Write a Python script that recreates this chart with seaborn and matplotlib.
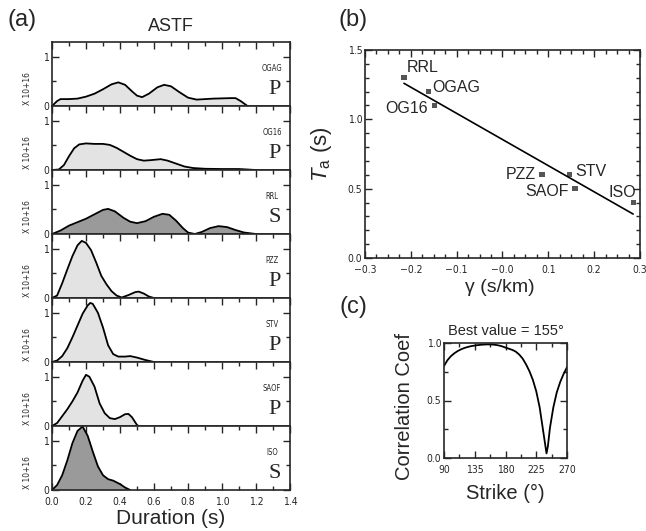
import numpy as np
import matplotlib
matplotlib.use("Agg")
import matplotlib.pyplot as plt
import seaborn as sns
from matplotlib.ticker import MultipleLocator

# ---- (a) apparent source time functions (amplitude x 1e16) ----
stations = ["OGAG", "OG16", "RRL", "PZZ", "STV", "SAOF", "ISO"]
phases = ["P", "P", "S", "P", "P", "P", "S"]

ogag_t = [0, 0.03, 0.05, 0.10, 0.15, 0.20, 0.25, 0.30, 0.35, 0.39, 0.43, 0.47, 0.50, 0.53,
          0.57, 0.62, 0.66, 0.70, 0.75, 0.80, 0.85, 0.90, 0.95, 1.00, 1.05, 1.08, 1.11, 1.15]
ogag_a = [0, 0.10, 0.14, 0.14, 0.15, 0.19, 0.25, 0.34, 0.44, 0.48, 0.43, 0.30, 0.21, 0.18,
          0.25, 0.38, 0.43, 0.40, 0.28, 0.17, 0.13, 0.14, 0.15, 0.155, 0.16, 0.16, 0.10, 0]

og16_t = [0, 0.04, 0.07, 0.10, 0.13, 0.16, 0.20, 0.25, 0.30, 0.34, 0.38, 0.42, 0.46, 0.50,
          0.54, 0.58, 0.64, 0.68, 0.73, 0.78, 0.83, 0.90, 1.00, 1.10, 1.15, 1.20]
og16_a = [0, 0.01, 0.10, 0.28, 0.44, 0.52, 0.54, 0.53, 0.53, 0.51, 0.45, 0.37, 0.29, 0.22,
          0.19, 0.20, 0.22, 0.19, 0.13, 0.07, 0.04, 0.025, 0.02, 0.02, 0.01, 0]

rrl_t = [0, 0.05, 0.10, 0.15, 0.20, 0.25, 0.30, 0.33, 0.37, 0.42, 0.46, 0.50, 0.55, 0.60,
         0.65, 0.69, 0.73, 0.77, 0.80, 0.84, 0.88, 0.93, 0.98, 1.03, 1.08, 1.13, 1.20]
rrl_a = [0, 0.07, 0.17, 0.24, 0.31, 0.40, 0.49, 0.51, 0.46, 0.33, 0.25, 0.22, 0.26, 0.35,
         0.41, 0.39, 0.27, 0.12, 0.03, 0.0, 0.04, 0.12, 0.16, 0.14, 0.08, 0.03, 0]

pzz_t = [0, 0.03, 0.06, 0.09, 0.12, 0.15, 0.175, 0.20, 0.23, 0.26, 0.29, 0.32, 0.35, 0.38,
         0.41, 0.45, 0.49, 0.51, 0.54, 0.57, 0.60]
pzz_a = [0, 0.05, 0.30, 0.58, 0.85, 1.07, 1.16, 1.12, 0.97, 0.72, 0.45, 0.28, 0.14, 0.05,
         0.01, 0.06, 0.12, 0.13, 0.09, 0.03, 0]

stv_t = [0, 0.03, 0.06, 0.09, 0.12, 0.15, 0.18, 0.21, 0.225, 0.24, 0.27, 0.30, 0.33, 0.36,
         0.39, 0.43, 0.46, 0.50, 0.55, 0.60]
stv_a = [0, 0.03, 0.12, 0.28, 0.50, 0.74, 0.98, 1.15, 1.20, 1.18, 1.00, 0.70, 0.34, 0.16,
         0.11, 0.11, 0.12, 0.09, 0.04, 0]

saof_t = [0, 0.03, 0.06, 0.09, 0.12, 0.15, 0.18, 0.20, 0.22, 0.25, 0.28, 0.31, 0.34, 0.37,
          0.40, 0.43, 0.45, 0.47, 0.50, 0.51]
saof_a = [0, 0.06, 0.20, 0.34, 0.50, 0.68, 0.92, 1.04, 1.00, 0.80, 0.46, 0.26, 0.16, 0.14,
          0.18, 0.24, 0.245, 0.18, 0.02, 0]

iso_t = [0, 0.03, 0.06, 0.09, 0.12, 0.15, 0.18, 0.21, 0.24, 0.27, 0.30, 0.33, 0.36, 0.40,
         0.43, 0.46]
iso_a = [0, 0.10, 0.30, 0.60, 0.95, 1.20, 1.29, 1.10, 0.78, 0.48, 0.30, 0.22, 0.19, 0.12,
         0.05, 0]

astf_t = [ogag_t, og16_t, rrl_t, pzz_t, stv_t, saof_t, iso_t]
astf_a = [ogag_a, og16_a, rrl_a, pzz_a, stv_a, saof_a, iso_a]

# ---- (b) apparent duration vs gamma ----
b_names = ["RRL", "OGAG", "OG16", "PZZ", "STV", "SAOF", "ISO"]
gamma = [-0.215, -0.162, -0.149, 0.086, 0.146, 0.158, 0.285]
ta = [1.30, 1.20, 1.10, 0.60, 0.60, 0.50, 0.40]

# ---- (c) correlation vs strike ----
strike = [90, 95, 100, 105, 110, 115, 120, 125, 130, 135, 140, 145, 150, 155, 160, 165, 170,
          175, 180, 185, 190, 195, 200, 205, 210, 215, 220, 225, 230, 235, 238, 240, 242,
          245, 250, 255, 260, 265, 270]
corr = [0.80, 0.85, 0.885, 0.91, 0.93, 0.945, 0.957, 0.966, 0.973, 0.978, 0.982, 0.985,
        0.987, 0.988, 0.987, 0.984, 0.979, 0.971, 0.96, 0.95, 0.94, 0.925, 0.90, 0.865,
        0.815, 0.755, 0.68, 0.58, 0.44, 0.24, 0.12, 0.04, 0.10, 0.26, 0.44, 0.57, 0.66,
        0.73, 0.79]

sns.set_theme(style="ticks")
plt.rcParams["font.family"] = ["Liberation Sans", "DejaVu Sans"]
plt.rcParams["mathtext.fontset"] = "custom"
plt.rcParams["mathtext.it"] = "Liberation Sans:italic"
plt.rcParams["mathtext.rm"] = "Liberation Sans"
plt.rcParams["axes.linewidth"] = 1.2

# condensed look for the small tick numbers
NARROW = dict(family="DejaVu Sans", stretch="condensed")
W, H = 646, 531
fig = plt.figure(figsize=(W / 100, H / 100), dpi=100)


def frame(left, top, right, bottom):
    return fig.add_axes([left / W, 1 - bottom / H, (right - left) / W, (bottom - top) / H])


def style_ticks(ax):
    ax.tick_params(which="both", direction="in", top=True, right=True, width=1.0, pad=2)
    ax.tick_params(which="major", length=5)
    ax.tick_params(which="minor", length=3)
    ax.tick_params(axis="x", pad=5)


# ---- panel (a) ----
for i, (name, ph, t, a) in enumerate(zip(stations, phases, astf_t, astf_a)):
    ax = frame(52, 42 + 64 * i, 290, 106 + 64 * i)
    fill = "#9a9a9a" if ph == "S" else "#e3e3e3"
    ax.fill_between(t, a, color=fill, lw=0)
    sns.lineplot(x=t, y=a, ax=ax, color="black", lw=1.3, sort=False, estimator=None)
    ax.set_xlim(0, 1.4)
    ax.set_ylim(0, 1.3)
    last = i == len(stations) - 1
    ax.set_xticks(np.arange(0, 1.41, 0.2), [f"{v:.1f}" for v in np.arange(0, 1.41, 0.2)],
                  fontsize=7.5, **NARROW)
    ax.xaxis.set_minor_locator(MultipleLocator(0.1))
    ax.set_yticks([0, 1], ["0", "1"], fontsize=7.5, **NARROW)
    ax.yaxis.set_minor_locator(MultipleLocator(0.5))
    style_ticks(ax)
    ax.tick_params(which="both", bottom=last, labelbottom=last)
    ax.set_ylabel("X 10+16", fontsize=6, **NARROW)
    ax.yaxis.set_label_coords(-0.085, 0.27)
    ax.text(0.925, 0.59, name, transform=ax.transAxes, ha="center", va="center",
            fontsize=5.5, **NARROW)
    ax.text(0.935, 0.25, ph, transform=ax.transAxes, ha="center", va="center",
            fontsize=16, family="Liberation Serif")
    if i == 0:
        ax.set_title("ASTF", fontsize=13, pad=8)

fig.text(22 / W, 1 - 20 / H, "(a)", fontsize=17, ha="center", va="center")
fig.text(171 / W, 1 - 518 / H, "Duration (s)", fontsize=15, ha="center", va="center")

# ---- panel (b) ----
axb = frame(365, 50, 640, 258)
sns.regplot(x=gamma, y=ta, ax=axb, scatter=False, ci=None, truncate=True,
            line_kws=dict(color="black", lw=1.2))
sns.scatterplot(x=gamma, y=ta, ax=axb, marker="s", s=14, color="#555555", edgecolor="none")
axb.set_xlim(-0.3, 0.3)
axb.set_ylim(0, 1.5)
axb.set_xticks([-0.3, -0.2, -0.1, 0.0, 0.1, 0.2, 0.3],
               ["\u22120.3", "\u22120.2", "\u22120.1", "\u22120.0", "0.1", "0.2", "0.3"],
               fontsize=7.5, **NARROW)
axb.set_yticks([0, 0.5, 1.0, 1.5], ["0.0", "0.5", "1.0", "1.5"], fontsize=7.5, **NARROW)
axb.xaxis.set_minor_locator(MultipleLocator(0.025))
axb.yaxis.set_minor_locator(MultipleLocator(0.1))
style_ticks(axb)
axb.set_xlabel("")
axb.set_ylabel("")

label_offsets = {"RRL": (3, 10, "left"), "OGAG": (4, 4, "left"), "OG16": (-6, -3, "right"),
                 "PZZ": (-6, 0, "right"), "STV": (6, 3, "left"), "SAOF": (-6, -3, "right"),
                 "ISO": (3, 10, "right")}
for name, g, v in zip(b_names, gamma, ta):
    dx, dy, ha = label_offsets[name]
    axb.annotate(name, (g, v), xytext=(dx, dy), textcoords="offset pixels",
                 ha=ha, va="center", fontsize=11.5)

fig.text(353 / W, 1 - 20 / H, "(b)", fontsize=17, ha="center", va="center")
fig.text(500 / W, 1 - 288 / H, "\u03b3 (s/km)", fontsize=14, ha="center", va="center")
fig.text(322 / W, 1 - 154 / H, r"$T_{\mathrm{a}}$ (s)", fontsize=16, ha="center",
         va="center", rotation=90)

# ---- panel (c) ----
axc = frame(444, 343, 567, 458)
sns.lineplot(x=strike, y=corr, ax=axc, color="black", lw=1.3)
axc.set_xlim(90, 270)
axc.set_ylim(0, 1)
axc.set_xticks([90, 135, 180, 225, 270], ["90", "135", "180", "225", "270"],
               fontsize=7.5, **NARROW)
axc.set_yticks([0, 0.5, 1.0], ["0.0", "0.5", "1.0"], fontsize=7.5, **NARROW)
axc.xaxis.set_minor_locator(MultipleLocator(22.5))
axc.yaxis.set_minor_locator(MultipleLocator(0.25))
style_ticks(axc)
axc.set_title("Best value = 155\u00b0", fontsize=10.5, pad=6)

fig.text(353 / W, 1 - 307 / H, "(c)", fontsize=17, ha="center", va="center")
fig.text(405 / W, 1 - 407 / H, "Correlation Coef", fontsize=14.5, ha="center",
         va="center", rotation=90)
fig.text(505 / W, 1 - 493 / H, "Strike (\u00b0)", fontsize=14.5, ha="center", va="center")

fig.savefig("out.png", dpi=100)
plt.close(fig)
